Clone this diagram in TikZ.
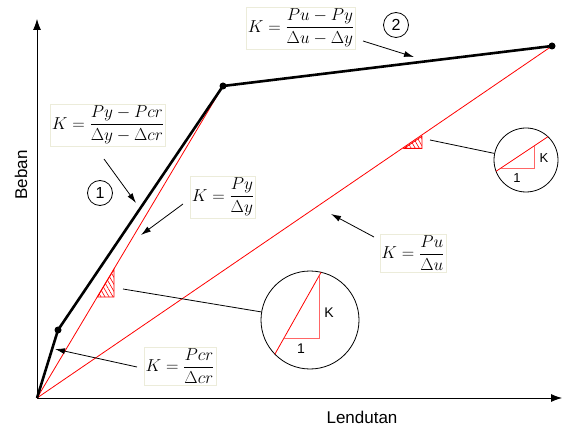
\documentclass[tikz,border=0pt]{standalone}
\usepackage{amsmath}
\usepackage[no-math]{fontspec}
\newfontfamily\arialfont{Liberation Sans}
\usetikzlibrary{arrows.meta,patterns.meta}
\definecolor{boxline}{RGB}{236,236,218}

\tikzset{
  axis/.style={line width=0.8pt,-{Latex[length=11pt,width=8pt]}},
  curve/.style={line width=2.6pt,line join=round},
  secant/.style={red,line width=0.8pt},
  formula/.style={draw=boxline,fill=white,inner sep=1.5pt,font=\fontsize{16.5}{19}\selectfont},
  pointer/.style={line width=0.8pt,-{Latex[length=10pt,width=6pt]}},
  leader/.style={line width=0.8pt},
  tag/.style={circle,draw,line width=0.8pt,minimum size=25pt,inner sep=0pt,font=\arialfont\fontsize{16}{16}\selectfont},
  lens/.style={circle,draw,line width=0.8pt,inner sep=0pt},
  hatch/.style={draw=red,line width=0.8pt,pattern={Lines[angle=120,distance=3.5pt,line width=0.6pt]},pattern color=red},
  lbl/.style={font=\arialfont\fontsize{17}{17}\selectfont},
  small/.style={font=\arialfont\fontsize{13}{13}\selectfont},
}

\begin{document}
\begin{tikzpicture}[x=1pt,y=-1pt]
  \useasboundingbox (0,0) rectangle (562,430);
  \coordinate (O) at (37,398);
  \coordinate (cr) at (58,330);
  \coordinate (y) at (223,86);
  \coordinate (u) at (552,46);
  \coordinate (ytop) at (37,19);
  \coordinate (xend) at (562,398);

  % axes
  \draw[axis] (O) -- (ytop);
  \draw[axis] (O) -- (xend);
  \node[lbl,rotate=90] (beban) at (21,175) {Beban};
  \node[lbl] (lendutan) at (362,417) {Lendutan};

  % secant stiffness lines
  \draw[secant] (O) -- (y);
  \draw[secant] (O) -- (u);
  \filldraw[hatch] (97.4,297) -- (114,297) -- (114,269.3) -- cycle;
  \filldraw[hatch] (404,148.4) -- (422,148.4) -- (422,136.2) -- cycle;

  % load--deflection curve
  \draw[curve] (O) -- (cr) -- (y) -- (u);
  \foreach \p in {cr,y,u} \fill (\p) circle (3.5pt);

  % stiffness formulas
  \node[formula] (kcr) at (180,366) {$\displaystyle K=\frac{Pcr}{\Delta cr}$};
  \node[formula] (k1) at (108,125) {$\displaystyle K=\frac{Py-Pcr}{\Delta y-\Delta cr}$};
  \node[formula] (ky) at (223,197) {$\displaystyle K=\frac{Py}{\Delta y}$};
  \node[formula] (k2) at (301,28) {$\displaystyle K=\frac{Pu-Py}{\Delta u-\Delta y}$};
  \node[formula] (ku) at (413,253) {$\displaystyle K=\frac{Pu}{\Delta u}$};
  \node[tag] (t1) at (100,193) {1};
  \node[tag] (t2) at (396,25) {2};

  \coordinate (a1) at (104,159); \coordinate (b1) at (136,203);
  \coordinate (a2) at (183,204); \coordinate (b2) at (141,235);
  \coordinate (a3) at (137,367); \coordinate (b3) at (55,349);
  \coordinate (a4) at (374,237); \coordinate (b4) at (331,214);
  \coordinate (a5) at (363,41);  \coordinate (b5) at (414,57);
  \foreach \i in {1,...,5} \draw[pointer] (a\i) -- (b\i);

  % magnified slopes
  \node[lens,minimum size=98pt] (lensA) at (310,320) {};
  \node[lens,minimum size=64pt] (lensB) at (526,160) {};
  \coordinate (hA) at (123,289);
  \coordinate (hB) at (430,140);
  \draw[leader] (hA) -- (lensA);
  \draw[leader] (hB) -- (lensB);

  \begin{scope}
    \clip (lensA.center) circle (49pt);
    \draw[secant] (270,362.8) -- (326,263.6);
  \end{scope}
  \draw[red!60,line width=0.9pt] (284,338) -- (319,338) -- (319,276);
  \node[small,font=\arialfont\fontsize{14}{14}\selectfont] (kA) at (329,313) {K};
  \node[small,font=\arialfont\fontsize{14}{14}\selectfont] (oneA) at (301,349) {1};

  \begin{scope}
    \clip (lensB.center) circle (32pt);
    \draw[secant] (486,178) -- (564,126);
  \end{scope}
  \draw[red!60,line width=0.9pt] (501,168) -- (534,168) -- (534,146);
  \node[small] (kB) at (544,158) {K};
  \node[small] (oneB) at (517,178) {1};
\end{tikzpicture}
\end{document}
